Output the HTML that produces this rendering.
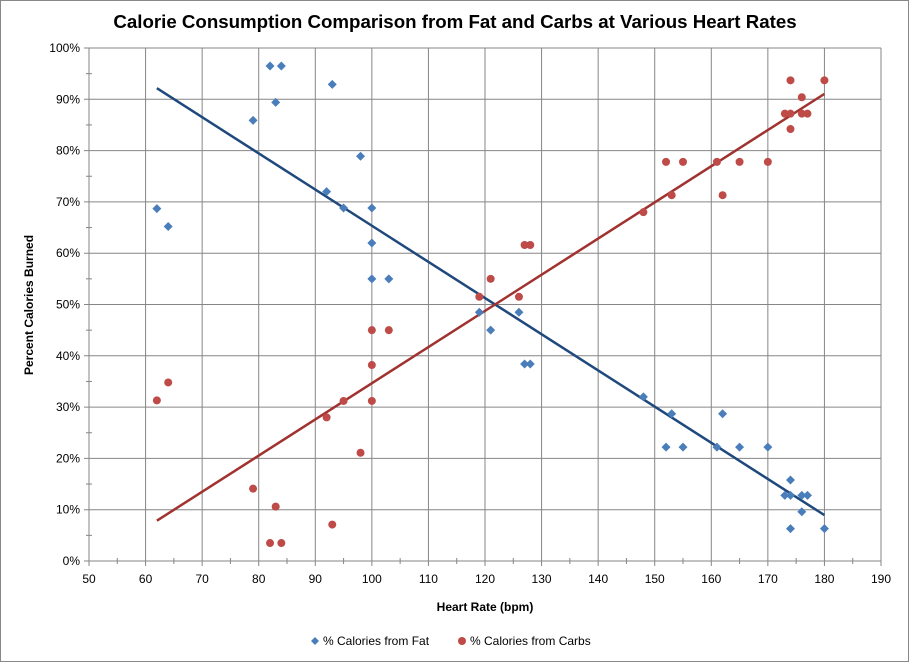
<!DOCTYPE html>
<html><head><meta charset="utf-8"><style>
body{margin:0;background:#fff;font-family:"Liberation Sans",Arial,sans-serif}
svg text{font-family:"Liberation Sans",Arial,sans-serif}
</style></head><body>
<svg id="c" width="910" height="663" xmlns="http://www.w3.org/2000/svg">
<rect x="0.5" y="0.5" width="908" height="661" fill="#fff" stroke="#888"/>
<text x="455" y="28" text-anchor="middle" font-size="18.7" font-weight="bold">Calorie Consumption Comparison from Fat and Carbs at Various Heart Rates</text>
<text transform="translate(33,305) rotate(-90)" text-anchor="middle" font-size="12" font-weight="bold">Percent Calories Burned</text>
<text x="485" y="611" text-anchor="middle" font-size="12" font-weight="bold">Heart Rate (bpm)</text>
<g id="grid"></g><g id="marks"></g>
<g>
<path d="M315 637 l4 4 -4 4 -4 -4z" fill="#4a7ebb"/>
<text x="323" y="645" font-size="12">% Calories from Fat</text>
<circle cx="462" cy="641" r="4" fill="#be4b48"/>
<text x="470" y="645" font-size="12">% Calories from Carbs</text>
</g>
</svg>
<script>
const heartRates=[62,64,79,82,84,83,93,98,92,95,100,100,100,103,119,121,126,127,128,148,153,162,152,155,161,165,170,174,173,174,176,177,176,174,180];
const fatPct=[68.7,65.2,85.9,96.5,96.5,89.4,92.9,78.9,72,68.8,68.8,62,55,55,48.5,45,48.5,38.4,38.4,32,28.7,28.7,22.2,22.2,22.2,22.2,22.2,15.8,12.8,12.8,12.8,12.8,9.6,6.3,6.3];
const carbsPct=[31.3,34.8,14.1,3.5,3.5,10.6,7.1,21.1,28,31.2,31.2,38.2,45,45,51.5,55,51.5,61.6,61.6,68,71.3,71.3,77.8,77.8,77.8,77.8,77.8,84.2,87.2,87.2,87.2,87.2,90.4,93.7,93.7];
const xTicks=[50,60,70,80,90,100,110,120,130,140,150,160,170,180,190];
const yTicks=[0,10,20,30,40,50,60,70,80,90,100];
const X0=89,X1=881,Y0=561,Y1=48;
const sx=v=>X0+(v-50)/140*(X1-X0);
const sy=v=>Y0-v/100*(Y0-Y1);
const NS='http://www.w3.org/2000/svg';
function mk(t,a,p){const e=document.createElementNS(NS,t);for(const k in a)e.setAttribute(k,a[k]);p.appendChild(e);return e;}
const g=document.getElementById('grid'),m=document.getElementById('marks');
xTicks.forEach(v=>{
 const l=mk('line',{x1:sx(v),x2:sx(v),y1:Y1,y2:Y0+5,stroke:'#868686'},g);
 
 
 if(v<190){const t=mk('line',{x1:sx(v+5),x2:sx(v+5),y1:Y0-3,y2:Y0+3,stroke:'#868686'},g);
 
 }
 const tx=mk('text',{x:sx(v),y:Y0+22,'text-anchor':'middle','font-size':12},g);tx.textContent=v;
 
 
});
yTicks.forEach(v=>{
 const l=mk('line',{x1:X0-5,x2:X1,y1:sy(v),y2:sy(v),stroke:'#868686'},g);
 
 
 if(v<100){const t=mk('line',{x1:X0-3,x2:X0+3,y1:sy(v+5),y2:sy(v+5),stroke:'#868686'},g);
 
 }
 const tx=mk('text',{x:X0-9,y:sy(v)+4,'text-anchor':'end','font-size':12},g);tx.textContent=v+'%';
 
 
});
function reg(ys){const n=heartRates.length;let mx=0,my=0;heartRates.forEach((x,i)=>{mx+=x;my+=ys[i];});mx/=n;my/=n;let sxy=0,sxx=0;heartRates.forEach((x,i)=>{sxy+=(x-mx)*(ys[i]-my);sxx+=(x-mx)**2;});const b=sxy/sxx;return [b,my-b*mx];}
const xmin=Math.min(...heartRates),xmax=Math.max(...heartRates);
[[fatPct,'#1f497d','fat'],[carbsPct,'#a0322f','carbs']].forEach(([ys,c,n])=>{
 const [b,a]=reg(ys);
 const l=mk('line',{x1:sx(xmin),y1:sy(a+b*xmin),x2:sx(xmax),y2:sy(a+b*xmax),stroke:c,'stroke-width':2.5},m);
 
 
});
heartRates.forEach((x,i)=>{
 const px=sx(x),py=sy(fatPct[i]);
 const d=mk('path',{d:`M${px} ${py-4.5}l4.5 4.5-4.5 4.5-4.5-4.5z`,fill:'#4a7ebb'},m);
 
 
 const cc=mk('circle',{cx:px,cy:sy(carbsPct[i]),r:4,fill:'#be4b48'},m);
 
 
});
</script>
</body></html>
